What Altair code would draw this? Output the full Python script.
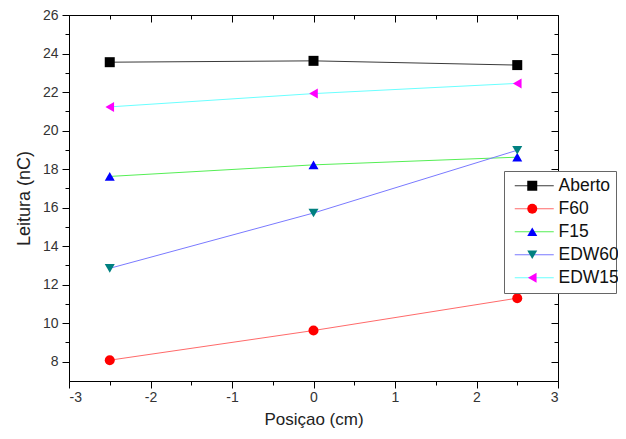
import altair as alt
import pandas as pd

# ---- data ----
positions = [-2.5, 0.0, 2.5]
series_names = ["Aberto", "F60", "F15", "EDW60", "EDW15"]
aberto = [23.55, 23.62, 23.40]
f60 = [8.08, 9.62, 11.30]
f15 = [17.62, 18.22, 18.62]
edw60 = [12.85, 15.72, 18.98]
edw15 = [21.23, 21.92, 22.45]

line_colors = ["#3a3a3a", "#ff6a6a", "#55ee55", "#7a7aff", "#6affff"]
marker_colors = ["#000000", "#ff0000", "#0000ff", "#008080", "#ff00ff"]
marker_shapes = ["square", "circle", "triangle-up", "triangle-down", "triangle-left"]

x_major = [-3, -2, -1, 0, 1, 2, 3]
x_minor = [-2.5, -1.5, -0.5, 0.5, 1.5, 2.5]
y_major = [8, 10, 12, 14, 16, 18, 20, 22, 24, 26]
y_minor = [9, 11, 13, 15, 17, 19, 21, 23, 25]

rows = []
for name, vals in zip(series_names, [aberto, f60, f15, edw60, edw15]):
    for p, v in zip(positions, vals):
        rows.append({"pos": p, "val": v, "serie": name, "serie_linha": name})
df = pd.DataFrame(rows)

FONT = "Liberation Sans"
xs = alt.Scale(domain=[-3, 3], nice=False, zero=False)
ys = alt.Scale(domain=[7, 26], nice=False, zero=False)

base = alt.Chart(df)

lines = base.mark_line(strokeWidth=1).encode(
    x=alt.X("pos:Q", scale=xs, axis=alt.Axis(
        orient="bottom", values=x_major, title="Posiçao (cm)", grid=False,
        tickSize=7, labelPadding=2, labelFontSize=14, labelExpr="'' + datum.value",
        titleFontSize=17, titlePadding=7)),
    y=alt.Y("val:Q", scale=ys, axis=alt.Axis(
        orient="left", values=y_major, title="Leitura (nC)", grid=False,
        tickSize=7, labelPadding=4, labelFontSize=14, labelExpr="'' + datum.value",
        titleFontSize=18, titlePadding=9)),
    color=alt.Color("serie_linha:N", sort=series_names,
                    scale=alt.Scale(range=line_colors),
                    legend=alt.Legend(orient="none", legendX=435, legendY=156, title=None,
                                      symbolType="M-0.8,0H7", symbolSize=100, symbolStrokeWidth=1,
                                      labelFontSize=17.5, labelExpr="' '", labelOffset=82,
                                      padding=6, rowPadding=4,
                                      strokeColor="#666666", fillColor="white")),
)

marker_legend = alt.Legend(orient="none", legendX=448.5, legendY=156, title=None,
                           symbolSize=100, symbolStrokeWidth=0,
                           labelFontSize=17.5, labelOffset=17.5, labelColor="#111111",
                           padding=6, rowPadding=4)

points = base.mark_point(filled=True, size=100, opacity=1, strokeWidth=0).encode(
    x=alt.X("pos:Q", scale=xs, axis=None),
    y=alt.Y("val:Q", scale=ys, axis=None),
    fill=alt.Fill("serie:N", scale=alt.Scale(domain=series_names, range=marker_colors),
                  legend=marker_legend),
    shape=alt.Shape("serie:N", scale=alt.Scale(domain=series_names, range=marker_shapes),
                    legend=marker_legend),
)

minor_bl = base.mark_point(opacity=0).encode(
    x=alt.X("pos:Q", scale=xs, axis=alt.Axis(
        orient="bottom", values=x_minor, title=None, labels=False, domain=False,
        grid=False, tickSize=4)),
    y=alt.Y("val:Q", scale=ys, axis=alt.Axis(
        orient="left", values=y_minor, title=None, labels=False, domain=False,
        grid=False, tickSize=4)),
)

major_tr = base.mark_point(opacity=0).encode(
    x=alt.X("pos:Q", scale=xs, axis=alt.Axis(
        orient="top", values=x_major, title=None, labels=False, domain=False,
        grid=False, tickSize=7, offset=-7)),
    y=alt.Y("val:Q", scale=ys, axis=alt.Axis(
        orient="right", values=y_major, title=None, labels=False, domain=False,
        grid=False, tickSize=7, offset=-7)),
)

minor_tr = base.mark_point(opacity=0).encode(
    x=alt.X("pos:Q", scale=xs, axis=alt.Axis(
        orient="top", values=x_minor, title=None, labels=False, domain=False,
        grid=False, tickSize=4, offset=-4)),
    y=alt.Y("val:Q", scale=ys, axis=alt.Axis(
        orient="right", values=y_minor, title=None, labels=False, domain=False,
        grid=False, tickSize=4, offset=-4)),
)

chart = alt.layer(lines, points, minor_bl, major_tr, minor_tr).resolve_axis(
    x="independent", y="independent"
).properties(
    width=489, height=366,
    autosize=alt.AutoSizeParams(type="none"),
    padding={"left": 61, "top": 7, "right": 60, "bottom": 48},
    background="white",
).configure_view(
    stroke="black", strokeWidth=1
).configure_axis(
    domainColor="black", tickColor="black", domainWidth=1, tickWidth=1,
    labelFont=FONT, titleFont=FONT, labelColor="#333333", titleColor="#222222",
    titleFontWeight="normal",
).configure_legend(
    labelFont=FONT,
)

chart.save("out.html", embed_options={"renderer": "svg", "actions": False})
